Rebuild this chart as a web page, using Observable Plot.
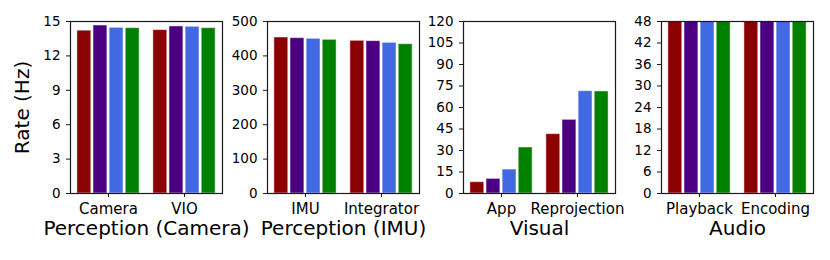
<!DOCTYPE html>
<html>
<head>
<meta charset="utf-8">
<script src="https://cdn.jsdelivr.net/npm/d3@7"></script>
<script src="https://cdn.jsdelivr.net/npm/@observablehq/plot@0.6"></script>
<style>
  html, body { margin: 0; padding: 0; background: white; }
  #chart { position: relative; width: 830px; height: 260px; overflow: hidden; font-family: "DejaVu Sans", sans-serif; }
  #chart svg { position: absolute; top: 0; overflow: visible; background: transparent; }
</style>
</head>
<body>
<div id="chart"></div>
<script>
// Series (applications) and their colours
const series = ["Sponza", "Materials", "Platformer", "AR Demo"];
const seriesColors = ["#8b0000", "#4b0082", "#4169e1", "#008000"];

// Panel titles (x-axis labels)
const panelTitles = ["Perception (Camera)", "Perception (IMU)", "Visual", "Audio"];

// Categories per panel
const camCats = ["Camera", "VIO"];
const imuCats = ["IMU", "Integrator"];
const visCats = ["App", "Reprojection"];
const audCats = ["Playback", "Encoding"];

// Values: one array per category, in series order
const camValues = [[14.2, 14.65, 14.45, 14.42], [14.25, 14.57, 14.54, 14.42]];
const imuValues = [[453.5, 451.6, 449.7, 446.7], [443.9, 442.9, 438.0, 434.0]];
const visValues = [[7.9, 10.2, 16.7, 32.1], [41.4, 51.4, 71.4, 71.2]];
const audValues = [[47.9, 47.9, 47.9, 47.9], [47.9, 47.9, 47.9, 47.9]];

// Y tick labels per panel
const camTicks = [0, 3, 6, 9, 12, 15];
const imuTicks = [0, 100, 200, 300, 400, 500];
const visTicks = [0, 15, 30, 45, 60, 75, 90, 105, 120];
const audTicks = [0, 6, 12, 18, 24, 30, 36, 42, 48];

const panels = [
  {title: panelTitles[0], cats: camCats, values: camValues, ticks: camTicks},
  {title: panelTitles[1], cats: imuCats, values: imuValues, ticks: imuTicks},
  {title: panelTitles[2], cats: visCats, values: visValues, ticks: visTicks},
  {title: panelTitles[3], cats: audCats, values: audValues, ticks: audTicks}
];

// layout
const frameLefts = [70, 266.7, 463.3, 660.7];
const frameWidth = 152;
const mLeft = 70, mRight = 8, mTop = 21, mBottom = 67;
const barW = 0.212;

const container = document.getElementById("chart");

panels.forEach((p, pi) => {
  const rows = [];
  p.cats.forEach((c, ci) => {
    p.values[ci].forEach((v, si) => {
      const center = ci + (si - 1.5) * barW;
      rows.push({cat: c, series: series[si], x1: center - barW / 2, x2: center + barW / 2, value: v});
    });
  });
  const yMax = p.ticks[p.ticks.length - 1];
  const marks = [
    Plot.rect(rows, {x1: "x1", x2: "x2", y1: 0, y2: "value", fill: "series", insetLeft: 1.1, insetRight: 1.1, stroke: "white", strokeWidth: 1, strokeOpacity: 0.5}),
    Plot.frame({stroke: "#1a1a1a", strokeWidth: 1.2}),
    Plot.axisY(p.ticks, {tickSize: 4, tickPadding: 6, fontSize: 13.5, label: null, stroke: "#1a1a1a"}),
    Plot.axisX([0, 1], {tickFormat: i => p.cats[i], tickSize: 4, tickPadding: 6, fontSize: 15, label: null, stroke: "#1a1a1a"}),
    Plot.text([p.title], {frameAnchor: "bottom", dy: 41.5, fontSize: 20, fill: "black"})
  ];
  if (pi === 0) {
    marks.push(Plot.text(["Rate (Hz)"], {frameAnchor: "left", textAnchor: "middle", rotate: -90, dx: -48, fontSize: 20, fill: "black"}));
  }
  const svg = Plot.plot({
    width: mLeft + frameWidth + mRight,
    height: 260,
    marginLeft: mLeft,
    marginRight: mRight,
    marginTop: mTop,
    marginBottom: mBottom,
    style: {fontFamily: "DejaVu Sans", background: "transparent", overflow: "visible", color: "black"},
    x: {type: "linear", domain: [-0.5, 1.5], axis: null},
    y: {type: "linear", domain: [0, yMax], axis: null},
    color: {domain: series, range: seriesColors},
    marks
  });
  svg.style.left = (frameLefts[pi] - mLeft) + "px";
  container.appendChild(svg);
});
</script>
</body>
</html>
